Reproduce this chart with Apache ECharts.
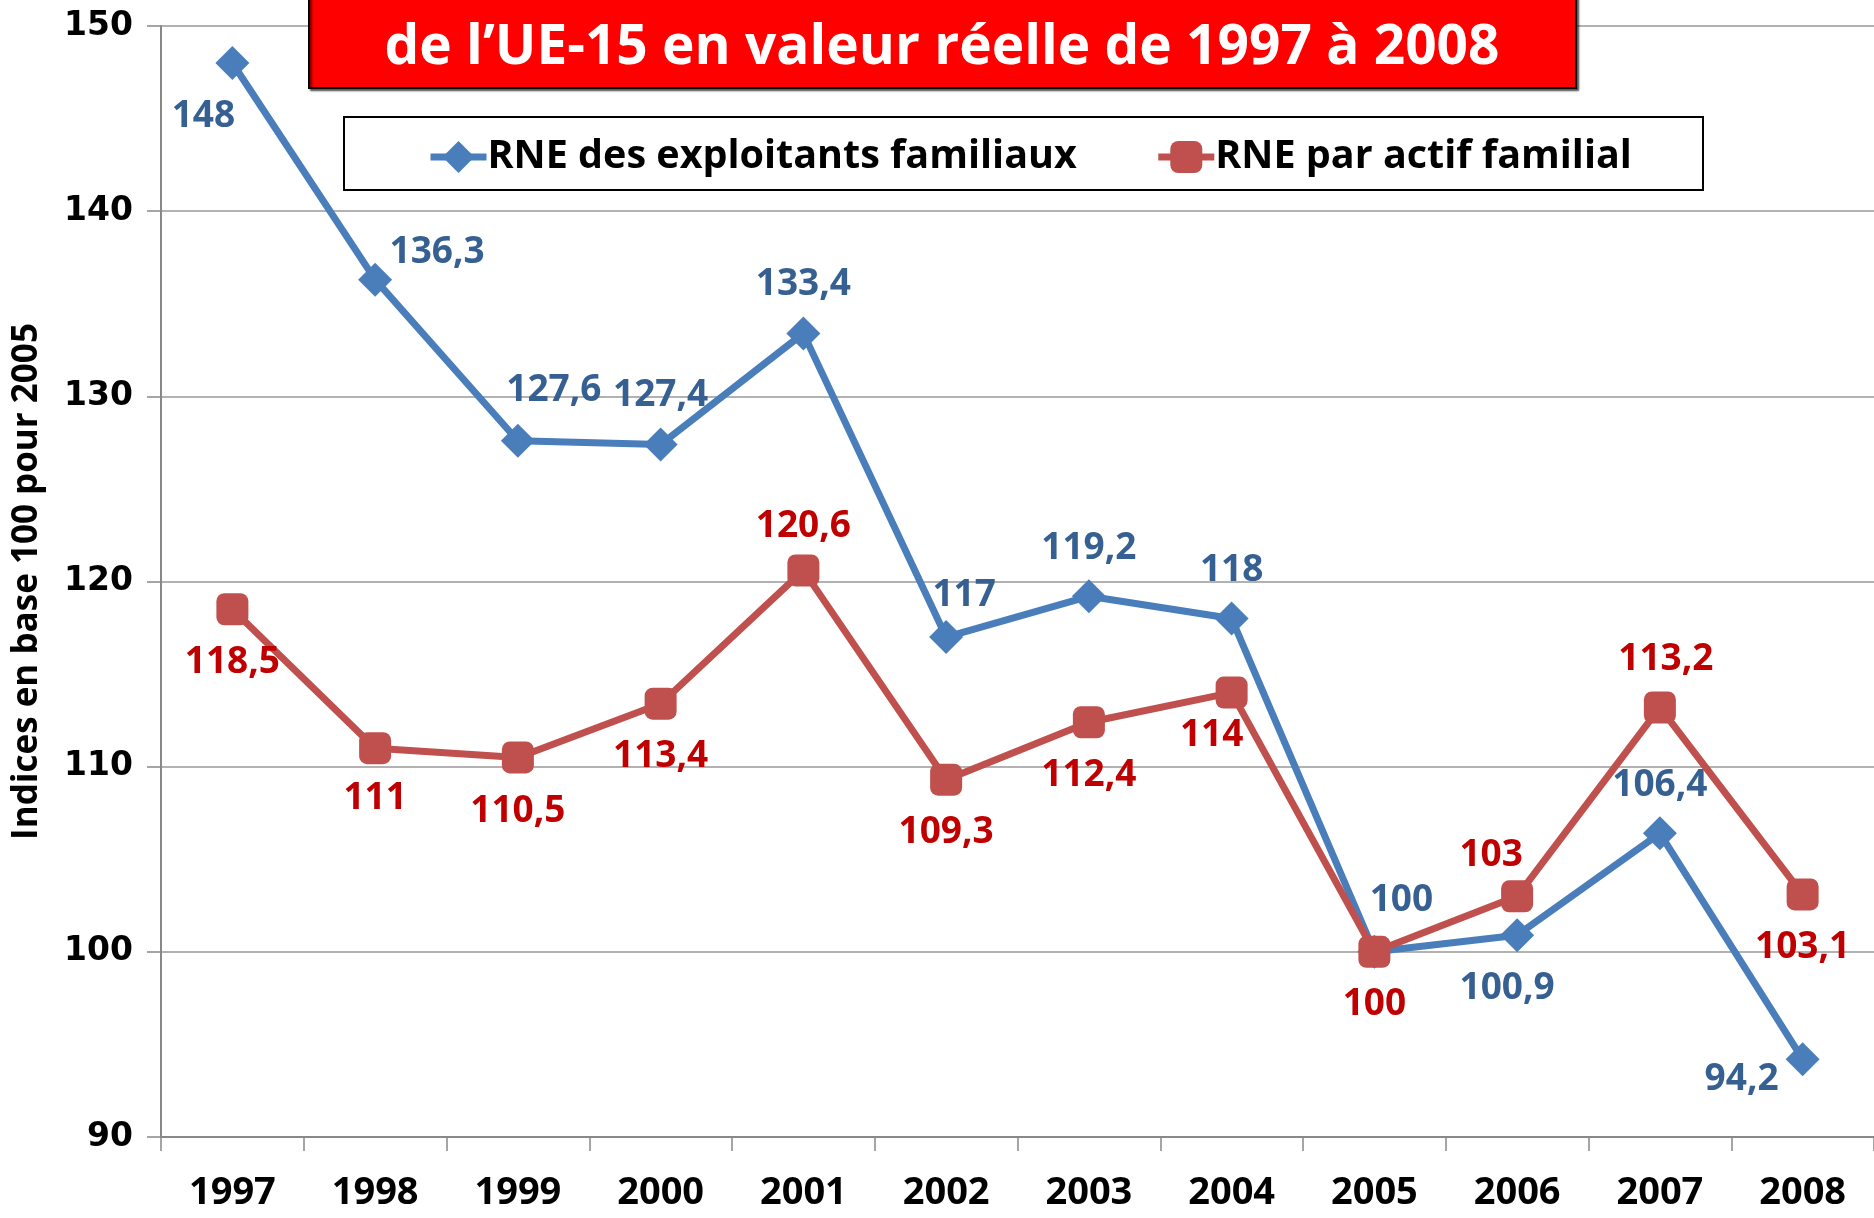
<!DOCTYPE html>
<html>
<head>
<meta charset="utf-8">
<script src="https://cdn.jsdelivr.net/npm/echarts@6/dist/echarts.min.js"></script>
<style>
  html, body { margin: 0; padding: 0; background: #fff; }
  #chart { width: 1874px; height: 1218px; }
</style>
</head>
<body>
<div id="chart"></div>
<script>
// données
const years = ['1997', '1998', '1999', '2000', '2001', '2002', '2003', '2004', '2005', '2006', '2007', '2008'];
const rneExploitants = [148, 136.3, 127.6, 127.4, 133.4, 117, 119.2, 118, 100, 100.9, 106.4, 94.2];
const rneParActif = [118.5, 111, 110.5, 113.4, 120.6, 109.3, 112.4, 114, 100, 103, 113.2, 103.1];
const yTicks = [90, 100, 110, 120, 130, 140, 150];

// décalage des étiquettes (px)
const offBlue = [[-29, 53], [62, -27], [36, -50], [0, -49], [0, -49], [18, -42], [0, -48], [0, -48], [27, -51], [-10, 53], [0, -48], [-61, 20]];
const offRed = [[0, 53], [0, 50], [0, 54], [0, 53], [0, -44], [0, 53], [0, 53], [-20, 43], [0, 53], [-26, -41], [6, -48], [0, 53]];

const fmt = v => String(v).replace('.', ',');
const font = "'Open Sans', sans-serif";

function withLabels (vals, offs) {
  return vals.map((v, i) => ({
    value: v,
    label: { offset: offs[i] }
  }));
}

const chart = echarts.init(document.getElementById('chart'));
const option = {
  animation: false,
  backgroundColor: '#fff',
  grid: { left: 161, right: 0, top: 26, bottom: 81, containLabel: false, outerBoundsMode: 'none' },
  legend: {
    left: 422,
    top: 132,
    z: 60,
    itemWidth: 56,
    itemHeight: 40,
    itemGap: 78,
    lineStyle: { width: 7 },
    textStyle: { fontFamily: font, fontWeight: 'bold', fontSize: 39.5, color: '#000', padding: [0, 0, 0, -4] },
    data: ['RNE des exploitants familiaux', 'RNE par actif familial']
  },
  xAxis: {
    type: 'category',
    data: years,
    boundaryGap: true,
    axisLine: { lineStyle: { color: '#888', width: 2 } },
    axisTick: { show: true, length: 14, lineStyle: { color: '#888', width: 1.5 } },
    axisLabel: { fontFamily: font, fontWeight: 'bold', fontSize: 38, color: '#000', margin: 37 }
  },
  yAxis: {
    type: 'value',
    min: 90,
    max: 150,
    interval: 10,
    name: 'Indices en base 100 pour 2005',
    nameLocation: 'middle',
    nameRotate: 90,
    nameGap: 116,
    nameTextStyle: { fontFamily: font, fontWeight: 'bold', fontSize: 35, color: '#000' },
    axisLine: { show: true, lineStyle: { color: '#888', width: 2 } },
    axisTick: { show: true, length: 14, lineStyle: { color: '#888', width: 1.5 } },
    splitLine: { lineStyle: { color: '#999', width: 1.5 } },
    axisLabel: {
      fontFamily: "'DejaVu Sans', sans-serif", fontWeight: 'bold', fontSize: 33, color: '#000', margin: 28,
      formatter: v => yTicks.includes(v) ? String(v) : ''
    }
  },
  graphic: [
    {
      type: 'rect', left: 308, top: -6, z: 100,
      shape: { width: 1267, height: 93 },
      style: { fill: '#ff0000', stroke: '#000', lineWidth: 2, shadowColor: 'rgba(0,0,0,0.6)', shadowOffsetX: 2, shadowOffsetY: 2, shadowBlur: 2 }
    },
    {
      type: 'text', z: 101, x: 942, y: 48,
      style: {
        text: 'de l’UE-15 en valeur réelle de 1997 à 2008',
        align: 'center', verticalAlign: 'middle',
        fill: '#fff', font: "bold 55px 'Open Sans', sans-serif",
        shadowColor: 'rgba(0,0,0,0.6)', shadowOffsetX: 2, shadowOffsetY: 2, shadowBlur: 2
      }
    },
    {
      type: 'rect', left: 343, top: 116, z: 0,
      shape: { width: 1359, height: 73 },
      style: { fill: '#fff', stroke: '#000', lineWidth: 2 }
    }
  ],
  series: [
    {
      name: 'RNE des exploitants familiaux',
      type: 'line',
      data: withLabels(rneExploitants, offBlue),
      symbol: 'diamond',
      symbolSize: 34,
      itemStyle: { color: '#4a7ebb' },
      lineStyle: { color: '#4a7ebb', width: 7 },
      z: 3,
      label: {
        show: true, position: 'inside', formatter: p => fmt(p.value),
        fontFamily: font, fontWeight: 'bold', fontSize: 37, color: '#376092'
      }
    },
    {
      name: 'RNE par actif familial',
      type: 'line',
      data: withLabels(rneParActif, offRed),
      symbol: 'roundRect',
      symbolSize: 32,
      itemStyle: { color: '#c0504d' },
      lineStyle: { color: '#c0504d', width: 7 },
      z: 4,
      label: {
        show: true, position: 'inside', formatter: p => fmt(p.value),
        fontFamily: font, fontWeight: 'bold', fontSize: 37, color: '#c00000'
      }
    }
  ]
};
chart.setOption(option);
</script>
</body>
</html>
